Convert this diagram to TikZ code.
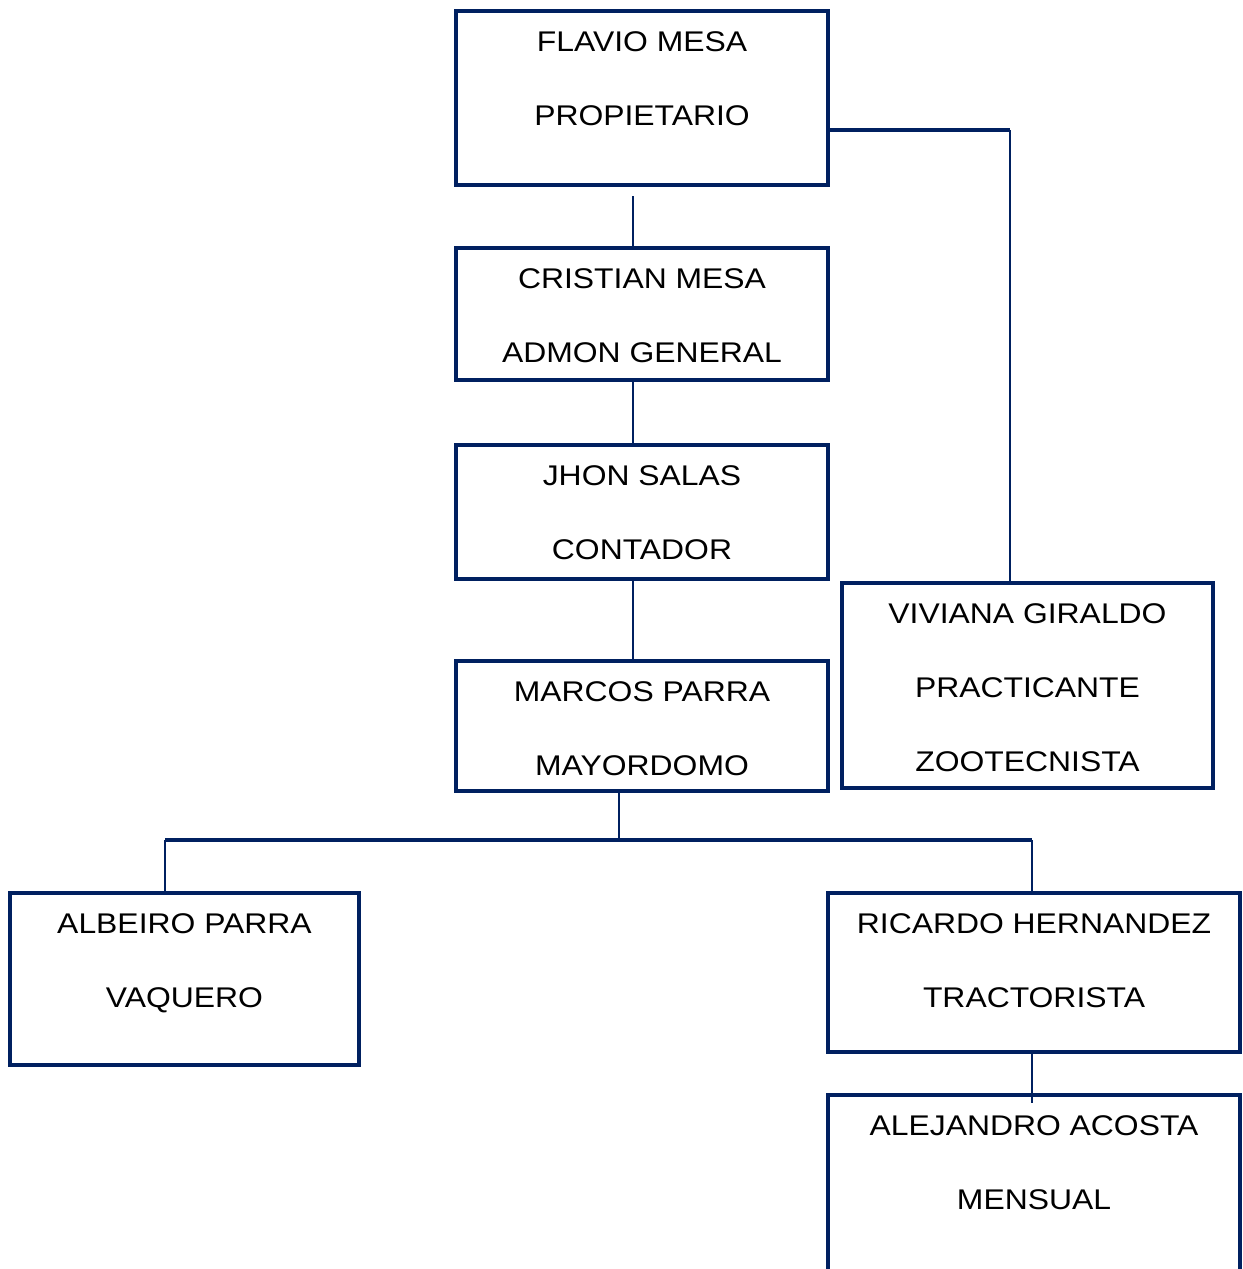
\documentclass[tikz,border=0pt]{standalone}
\usepackage{fontspec}
\setmainfont[FakeStretch=1.12]{Liberation Sans}
\usetikzlibrary{positioning}
\definecolor{orgblue}{RGB}{0,32,96}

\begin{document}
\begin{tikzpicture}[x=0.02cm, y=-0.02cm,
	box/.style = {draw=orgblue, line width=1.8pt, minimum width=7.44cm, inner sep=0pt},
	txt/.style = {align=center, inner sep=0pt, font=\fontsize{16.2pt}{42pt}\selectfont},
	link/.style = {draw=orgblue, line width=0.9pt},
	busline/.style = {draw=orgblue, line width=1.8pt}]
	\useasboundingbox (0,0) rectangle (1242,1269);
	
	% boxes
	\node[box, minimum height=3.48cm] (flavio) at (642,98) {};
	\node[box, minimum height=2.64cm] (cristian) at (642,314) {};
	\node[box, minimum height=2.68cm] (jhon) at (642,512) {};
	\node[box, minimum height=2.6cm] (marcos) at (642,726) {};
	\node[box, minimum width=7.42cm, minimum height=4.1cm] (viviana) at (1027.5,685.5) {};
	\node[box, minimum width=6.98cm, minimum height=3.44cm] (albeiro) at (184.5,979) {};
	\node[box, minimum width=8.24cm, minimum height=3.18cm] (ricardo) at (1034,972.5) {};
	\node[box, minimum width=8.24cm, minimum height=3.9cm] (alejandro) at (1034,1192.5) {};
	
	% texts
	\node[txt, below=0.44cm of flavio.north] (tflavio) {FLAVIO MESA\\PROPIETARIO};
	\node[txt, below=0.44cm of cristian.north] (tcristian) {CRISTIAN MESA\\ADMON GENERAL};
	\node[txt, below=0.44cm of jhon.north] (tjhon) {JHON SALAS\\CONTADOR};
	\node[txt, below=0.44cm of marcos.north] (tmarcos) {MARCOS PARRA\\MAYORDOMO};
	\node[txt, below=0.44cm of viviana.north] (tviviana) {VIVIANA GIRALDO\\PRACTICANTE\\ZOOTECNISTA};
	\node[txt, below=0.44cm of albeiro.north] (talbeiro) {ALBEIRO PARRA\\VAQUERO};
	\node[txt, below=0.44cm of ricardo.north] (tricardo) {RICARDO HERNANDEZ\\TRACTORISTA};
	\node[txt, below=0.44cm of alejandro.north] (talejandro) {ALEJANDRO ACOSTA\\MENSUAL};
	
	% connectors
	\coordinate (f1) at (633,196);
	\coordinate (vv) at (1010,130);
	\coordinate (bus) at (619,840);
	\coordinate (bl) at (165,840);
	\coordinate (br) at (1032,840);
	\draw[link] (f1) -- (f1 |- cristian.north);
	\draw[busline] (flavio.east |- vv) -- (vv);
	\draw[link] (vv) -- (vv |- viviana.north);
	\draw[link] (cristian.south -| f1) -- (jhon.north -| f1);
	\draw[link] (jhon.south -| f1) -- (marcos.north -| f1);
	\draw[link] (marcos.south -| bus) -- (bus);
	\draw[busline] (bl) -- (br);
	\draw[link] (bl) -- (bl |- albeiro.north);
	\draw[link] (br) -- (br |- ricardo.north);
	\draw[link] (ricardo.south -| br) -- ([yshift=-0.2cm]alejandro.north -| br);
\end{tikzpicture}
\end{document}
